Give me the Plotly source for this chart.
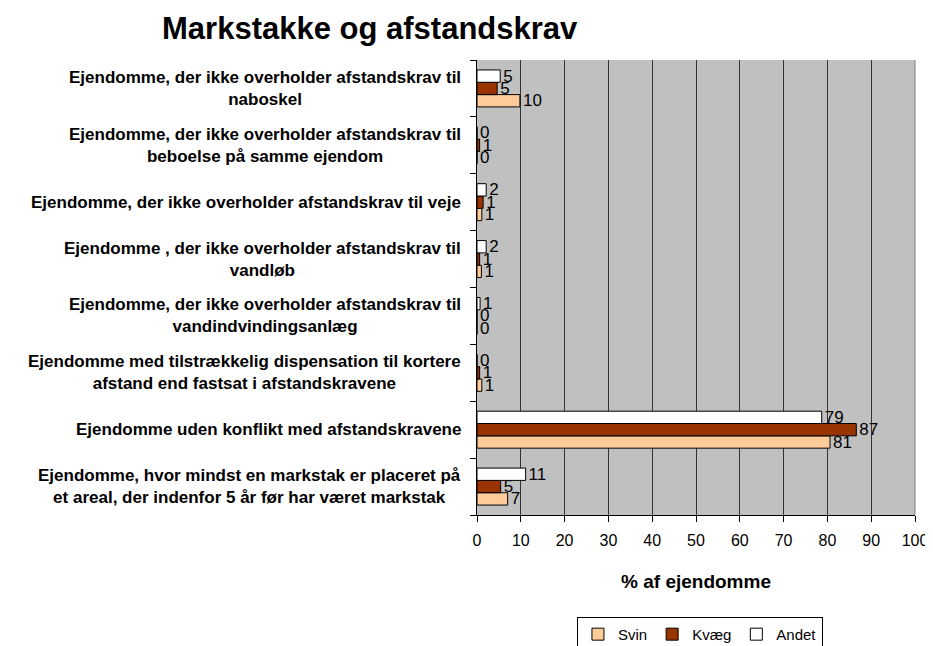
import plotly.graph_objects as go

# Categories (top to bottom as shown)
categories = [
    "Ejendomme, der ikke overholder afstandskrav til<br>naboskel",
    "Ejendomme, der ikke overholder afstandskrav til<br>beboelse på samme ejendom",
    "Ejendomme, der ikke overholder afstandskrav til veje",
    "Ejendomme , der ikke overholder afstandskrav til<br>vandløb",
    "Ejendomme, der ikke overholder afstandskrav til<br>vandindvindingsanlæg",
    "Ejendomme med tilstrækkelig dispensation til kortere<br>afstand end fastsat i afstandskravene",
    "Ejendomme uden konflikt med afstandskravene",
    "Ejendomme, hvor mindst en markstak er placeret på<br>et areal, der indenfor 5 år før har været markstak",
]

# % af ejendomme per series
svin = [9.8, 0.0, 1.1, 1.0, 0.0, 1.1, 80.6, 7.0]
kvaeg = [4.6, 0.6, 1.4, 0.6, 0.0, 0.6, 86.6, 5.4]
andet = [5.3, 0.0, 2.1, 2.1, 0.7, 0.0, 78.7, 11.1]

x_ticks = list(range(0, 101, 10))

FONT = "Arial, Liberation Sans, sans-serif"

fig = go.Figure()

series = [
    ("Svin", svin, "#FFCC99"),
    ("Kvæg", kvaeg, "#993300"),
    ("Andet", andet, "#FFFFFF"),
]
for name, vals, color in series:
    fig.add_trace(go.Bar(
        y=categories, x=vals,
        orientation="h",
        name=name,
        marker=dict(color=color, line=dict(color="#000000", width=1)),
        texttemplate="%{x:.0f}",
        textposition="outside",
        constraintext="none",
        cliponaxis=False,
        textfont=dict(family=FONT, size=17, color="#000000"),
    ))

# category labels: right-aligned block, centered lines (Excel style)
for cat in categories:
    fig.add_annotation(
        xref="paper", yref="y",
        x=0, y=cat, xshift=-14,
        xanchor="right", yanchor="middle",
        align="center",
        text=cat,
        showarrow=False,
        font=dict(family=FONT, size=17, color="#000000", weight="bold"),
    )

# the page body adds an 8px offset, so the figure is 8px smaller
fig.update_layout(
    width=925, height=638,
    margin=dict(l=469, r=18, t=52, b=131, autoexpand=False),
    paper_bgcolor="#FFFFFF",
    plot_bgcolor="#C0C0C0",
    barmode="group",
    bargap=0.35,
    bargroupgap=0,
    title=dict(
        text="Markstakke og afstandskrav",
        font=dict(family=FONT, size=31, color="#000000", weight="bold"),
        x=0.391, xref="container", xanchor="center",
        y=0.969, yref="container", yanchor="middle",
    ),
    xaxis=dict(
        range=[0, 100],
        tickvals=x_ticks,
        ticks="outside", ticklen=6, tickcolor="#000000",
        ticklabelstandoff=5,
        showgrid=True, gridcolor="#333333", gridwidth=1,
        showline=True, linecolor="#000000", linewidth=1,
        zeroline=False,
        tickfont=dict(family=FONT, size=16, color="#000000"),
        title=dict(text="% af ejendomme", standoff=26,
                   font=dict(family=FONT, size=19, color="#000000", weight="bold")),
    ),
    yaxis=dict(
        categoryorder="array",
        categoryarray=categories[::-1],
        showticklabels=False,
        ticks="outside", ticklen=6, tickcolor="#000000",
        tickson="boundaries",
        showgrid=False,
        showline=True, linecolor="#000000", linewidth=1,
        zeroline=False,
    ),
    legend=dict(
        orientation="h",
        x=0.509, xanchor="center",
        y=-0.224, yanchor="top",
        bordercolor="#000000", borderwidth=1,
        bgcolor="#FFFFFF",
        font=dict(family=FONT, size=15, color="#000000"),
        itemwidth=30,
        traceorder="normal",
    ),
    showlegend=True,
)

# right border of plot area
fig.add_shape(type="line", xref="paper", yref="paper", x0=1, x1=1, y0=0, y1=1,
              line=dict(color="#808080", width=1))

fig.write_html("out.html")
